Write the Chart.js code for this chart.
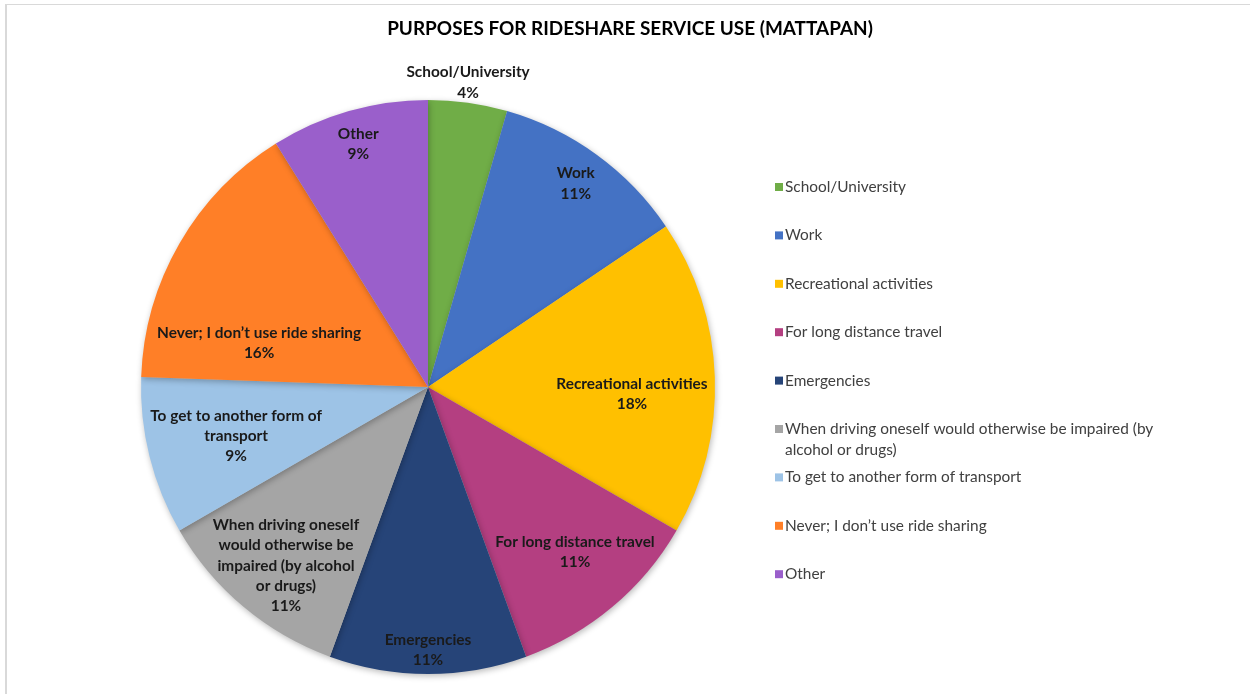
<!DOCTYPE html>
<html>
<head>
<meta charset="utf-8">
<script src="https://cdn.jsdelivr.net/npm/chart.js@4.4.1/dist/chart.umd.min.js"></script>
<style>
  html, body { margin: 0; padding: 0; background: #fff; }
  #wrap { position: relative; width: 1250px; height: 694px; overflow: hidden; }
  #frame { position: absolute; left: 5px; top: 4px; width: 1300px; height: 800px; border-left: 2px solid #d9d9d9; border-top: 1px solid #d9d9d9; box-sizing: border-box; }
  canvas { position: absolute; left: 0; top: 0; }
</style>
</head>
<body>
<div id="wrap">
  <div id="frame"></div>
  <canvas id="c" width="1250" height="694"></canvas>
</div>
<script>
const titleText = "PURPOSES FOR RIDESHARE SERVICE USE (MATTAPAN)";
const categories = [
  "School/University",
  "Work",
  "Recreational activities",
  "For long distance travel",
  "Emergencies",
  "When driving oneself would otherwise be impaired (by alcohol or drugs)",
  "To get to another form of transport",
  "Never; I don\u2019t use ride sharing",
  "Other"
];
const counts = [2, 5, 8, 5, 5, 5, 4, 7, 4];
const sliceLabelLines = [
  ["School/University"],
  ["Work"],
  ["Recreational activities"],
  ["For long distance travel"],
  ["Emergencies"],
  ["When driving oneself", "would otherwise be", "impaired (by alcohol", "or drugs)"],
  ["To get to another form of", "transport"],
  ["Never; I don\u2019t use ride sharing"],
  ["Other"]
];
const colors = ["#70AD47", "#4472C4", "#FFC000", "#B43F81", "#264478", "#A5A5A5", "#9DC3E6", "#FF7F27", "#9A5FCB"];

// label placement: [radius fraction, angle offset in degrees from slice middle]
const labelPlacement = [[1.07, -0.5], [0.876, 0], [0.711, 4], [0.77, -1.7], [0.916, 0], [0.795, -1.5], [0.69, -0.3], [0.608, -15.4], [0.882, 0]];

const FONT = "Lato, 'Open Sans', 'DejaVu Sans', sans-serif";

const total = counts.reduce((a, b) => a + b, 0);

const labelPlugin = {
  id: 'sliceLabels',
  afterDatasetsDraw(chart) {
    const ctx = chart.ctx;
    const meta = chart.getDatasetMeta(0);
    ctx.save();
    ctx.font = "bold 15.4px " + FONT;
    ctx.fillStyle = "#1a1a1a";
    ctx.textAlign = "center";
    ctx.textBaseline = "middle";
    const lh = 20.2;
    meta.data.forEach((arc, i) => {
      const p = arc.getProps(['x', 'y', 'startAngle', 'endAngle', 'outerRadius'], true);
      const mid = (p.startAngle + p.endAngle) / 2 + labelPlacement[i][1] * Math.PI / 180;
      const r = p.outerRadius * labelPlacement[i][0];
      const cx = p.x + Math.cos(mid) * r;
      const cy = p.y + Math.sin(mid) * r;
      const pct = Math.round(counts[i] / total * 100) + "%";
      const lines = sliceLabelLines[i].concat([pct]);
      const y0 = cy - (lines.length - 1) * lh / 2;
      lines.forEach((t, k) => ctx.fillText(t, cx, y0 + k * lh));
    });
    ctx.restore();
  }
};

const titlePlugin = {
  id: 'titleDraw',
  afterDraw(chart) {
    const ctx = chart.ctx;
    ctx.save();
    let size = 20;
    ctx.font = "bold " + size + "px " + FONT;
    const w = ctx.measureText(titleText).width;
    size = size * 486 / w;
    ctx.font = "bold " + size.toFixed(2) + "px " + FONT;
    ctx.fillStyle = "#000";
    ctx.textAlign = "center";
    ctx.textBaseline = "middle";
    ctx.fillText(titleText, 630, 29);
    ctx.restore();
  }
};

function wrapText(ctx, text, maxW) {
  const words = text.split(" ");
  const lines = [];
  let cur = "";
  words.forEach(w => {
    const test = cur ? cur + " " + w : w;
    if (ctx.measureText(test).width > maxW && cur) { lines.push(cur); cur = w; }
    else cur = test;
  });
  if (cur) lines.push(cur);
  return lines;
}

const legendPlugin = {
  id: 'legendDraw',
  afterDraw(chart) {
    const ctx = chart.ctx;
    ctx.save();
    ctx.font = "15.4px " + FONT;
    ctx.textBaseline = "middle";
    ctx.textAlign = "left";
    const x0 = 775, yStart = 187, step = 48.4, lh = 21;
    categories.forEach((c, i) => {
      const y = yStart + i * step;
      ctx.fillStyle = colors[i];
      ctx.fillRect(x0, y - 4, 8, 8);
      ctx.fillStyle = "#404040";
      const lines = wrapText(ctx, c, 378);
      lines.forEach((t, k) => ctx.fillText(t, x0 + 10, y + k * lh));
    });
    ctx.restore();
  }
};

const shadowPlugin = {
  id: 'pieShadow',
  beforeDatasetsDraw(chart) {
    const ctx = chart.ctx;
    ctx.save();
    ctx.shadowColor = "rgba(0,0,0,0.28)";
    ctx.shadowBlur = 6;
    ctx.shadowOffsetX = 1;
    ctx.shadowOffsetY = 2;
  },
  afterDatasetsDraw(chart) {
    chart.ctx.restore();
  }
};

new Chart(document.getElementById('c'), {
  type: 'pie',
  data: {
    labels: categories,
    datasets: [{
      data: counts,
      backgroundColor: colors,
      borderWidth: 0
    }]
  },
  options: {
    responsive: false,
    animation: false,
    layout: { padding: { top: 100, bottom: 20, left: 141, right: 535 } },
    plugins: {
      legend: { display: false },
      title: { display: false },
      tooltip: { enabled: false }
    }
  },
  plugins: [shadowPlugin, labelPlugin, titlePlugin, legendPlugin]
});
</script>
</body>
</html>
